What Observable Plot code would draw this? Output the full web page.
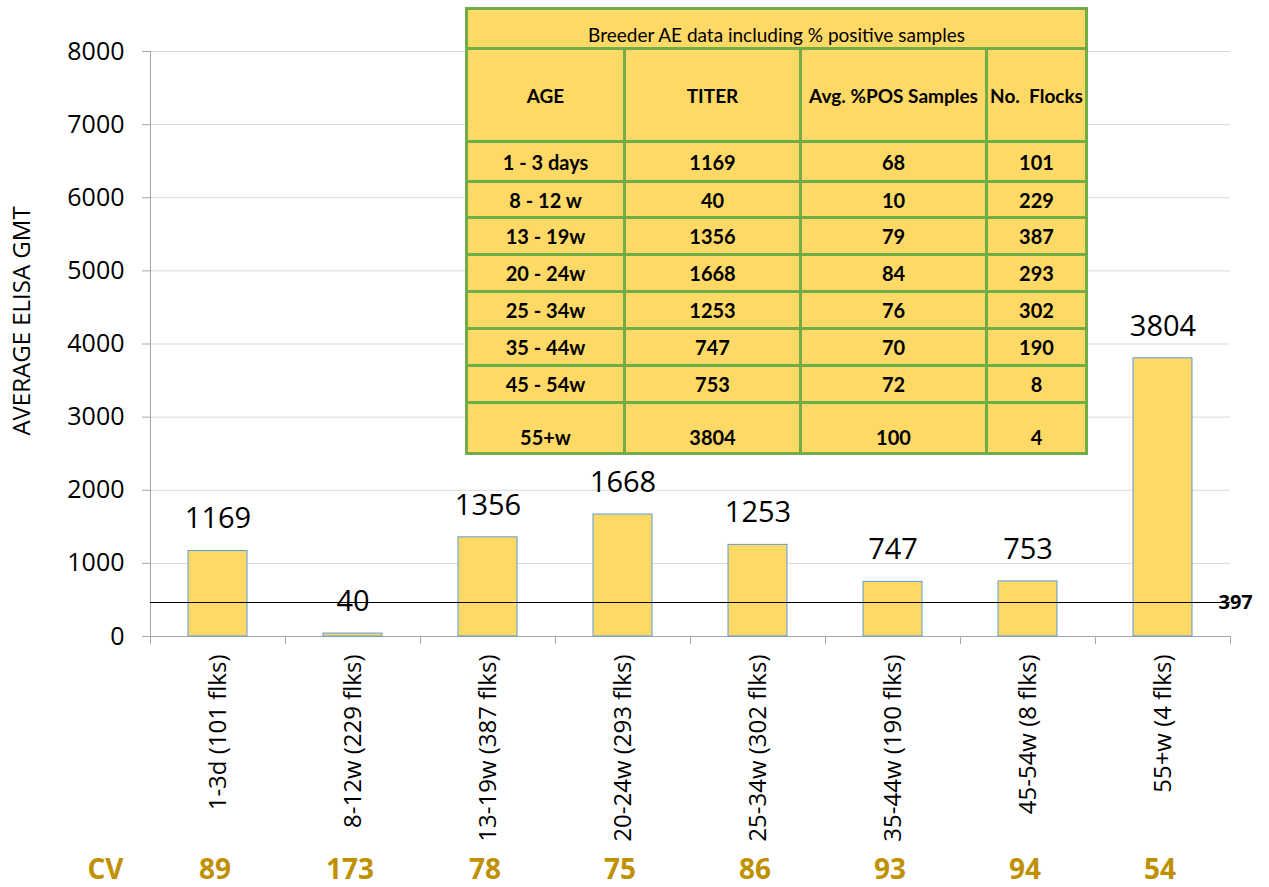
<!DOCTYPE html>
<html><head><meta charset="utf-8">
<script src="https://cdn.jsdelivr.net/npm/d3@7"></script>
<script src="https://cdn.jsdelivr.net/npm/@observablehq/plot@0.6"></script>
<style>
body{margin:0;background:#fff;}
#wrap{position:relative;width:1269px;height:887px;overflow:hidden;font-family:"Open Sans",sans-serif;}
#wrap svg{position:absolute;left:0;top:0;}
#tbl{position:absolute;left:465px;top:7px;width:620px;border-collapse:collapse;background:#FFD966;font-family:Lato,"Open Sans",sans-serif;font-size:20px;color:#000;table-layout:fixed;}
#tbl td{border:3px solid #70AD47;text-align:center;font-weight:bold;padding:0;white-space:nowrap;overflow:hidden;}
#tbl td.title{font-weight:normal;vertical-align:bottom;padding-bottom:1px;font-size:19px;}
#tbl td.hdr{font-size:19px;}
#tbl tr.last td{vertical-align:bottom;padding-bottom:3px;}
</style></head><body><div id="wrap"></div>
<script>
// ---- data ----
const categories = ["1-3d (101 flks)", "8-12w (229 flks)", "13-19w (387 flks)", "20-24w (293 flks)", "25-34w (302 flks)", "35-44w (190 flks)", "45-54w (8 flks)", "55+w (4 flks)"];
const titers = [1169, 40, 1356, 1668, 1253, 747, 753, 3804];
const cvValues = [89, 173, 78, 75, 86, 93, 94, 54];
const yTicks = [0, 1000, 2000, 3000, 4000, 5000, 6000, 7000, 8000];
const refLineValue = 465;
const refLineLabel = "397";
const yAxisTitle = "AVERAGE ELISA GMT";
const cvLabel = "CV";

const tableTitle = "Breeder AE data including % positive samples";
const tableHeaders = ["AGE", "TITER", "Avg. %POS Samples", "No.\u00a0 Flocks"];
const tableAges = ["1 - 3 days", "8 - 12 w", "13 - 19w", "20 - 24w", "25 - 34w", "35 - 44w", "45 - 54w", "55+w"];
const tableTiters = [1169, 40, 1356, 1668, 1253, 747, 753, 3804];
const tablePosPct = [68, 10, 79, 84, 76, 70, 72, 100];
const tableFlocks = [101, 229, 387, 293, 302, 190, 8, 4];

// ---- chart ----
const W = 1269, H = 887, mL = 150, mR = 39, mT = 51, mB = 251;
const step = (W - mL - mR) / categories.length;
const data = categories.map((c, i) => ({cat: c, titer: titers[i], cv: cvValues[i]}));
const axisGray = "#A6A6A6";

const chart = Plot.plot({
  width: W, height: H,
  marginLeft: mL, marginRight: mR, marginTop: mT, marginBottom: mB,
  style: {fontFamily: "'Open Sans', sans-serif", background: "transparent", color: "#000"},
  x: {domain: categories, padding: 0, label: null},
  y: {domain: [0, 8000], label: null},
  marks: [
    Plot.gridY(yTicks, {stroke: "#D9D9D9", strokeOpacity: 1}),
    Plot.axisY(yTicks, {tickSize: 8, tickPadding: 18, fontSize: 25, stroke: axisGray, fill: "#000", label: null, tickFormat: d => String(d)}),
    Plot.ruleX([categories[0]], {dx: -step / 2, y1: 0, y2: 8000, stroke: axisGray}),
    Plot.ruleX(categories, {dx: -step / 2, y1: 0, y2: 0, insetBottom: -8, stroke: axisGray}),
    Plot.ruleX([categories[categories.length - 1]], {dx: step / 2, y1: 0, y2: 0, insetBottom: -8, stroke: axisGray}),
    Plot.ruleY([0], {stroke: axisGray}),
    Plot.barY(data, {x: "cat", y: "titer", fill: "#FFD966", stroke: "#5B9BD5", strokeWidth: 1, insetLeft: 38, insetRight: 38}),
    Plot.ruleY([refLineValue], {stroke: "#000", strokeWidth: 1.2}),
    Plot.text([refLineLabel], {y: () => refLineValue, text: d => d, frameAnchor: "right", textAnchor: "start", dx: -12, fontSize: 20, fontWeight: "bold", fill: "#000"}),
    Plot.text(data, {x: "cat", y: "titer", text: d => String(d.titer), dy: -32, fontSize: 29, fill: "#000"}),
    Plot.axisX({tickRotate: -90, tickSize: 0, tickPadding: 18, fontSize: 24, fill: "#000", label: null}),
    Plot.text(data, {x: "cat", text: d => String(d.cv), frameAnchor: "bottom", dx: -3, dy: 242, fill: "#BF9000", fontSize: 28, fontWeight: "bold"}),
    Plot.text([cvLabel], {text: d => d, frameAnchor: "bottom-left", textAnchor: "middle", dx: -45, dy: 242, fill: "#BF9000", fontSize: 28, fontWeight: "bold"}),
    Plot.text([yAxisTitle], {text: d => d, frameAnchor: "left", textAnchor: "middle", rotate: -90, dx: -128, dy: -23, fontSize: 24, fill: "#000"})
  ]
});
const wrap = document.getElementById("wrap");
wrap.appendChild(chart);

// ---- table overlay ----
const tbl = document.createElement("table");
tbl.id = "tbl";
const colW = [158, 176, 186, 100];
const cg = document.createElement("colgroup");
colW.forEach(w => { const c = document.createElement("col"); c.style.width = w + "px"; cg.appendChild(c); });
tbl.appendChild(cg);
const rowH = [40, 93, 40, 36, 37, 37, 37, 37, 37, 51];
let tr = document.createElement("tr");
tr.style.height = rowH[0] + "px";
let td = document.createElement("td"); td.colSpan = 4; td.className = "title"; td.textContent = tableTitle;
tr.appendChild(td); tbl.appendChild(tr);
tr = document.createElement("tr"); tr.style.height = rowH[1] + "px";
tableHeaders.forEach(h => { const c = document.createElement("td"); c.className = "hdr"; c.textContent = h; tr.appendChild(c); });
tbl.appendChild(tr);
tableAges.forEach((a, i) => {
  const r = document.createElement("tr");
  r.style.height = rowH[i + 2] + "px";
  if (i === tableAges.length - 1) r.className = "last";
  [a, tableTiters[i], tablePosPct[i], tableFlocks[i]].forEach(v => { const c = document.createElement("td"); c.textContent = v; r.appendChild(c); });
  tbl.appendChild(r);
});
wrap.appendChild(tbl);
</script>
</body></html>
